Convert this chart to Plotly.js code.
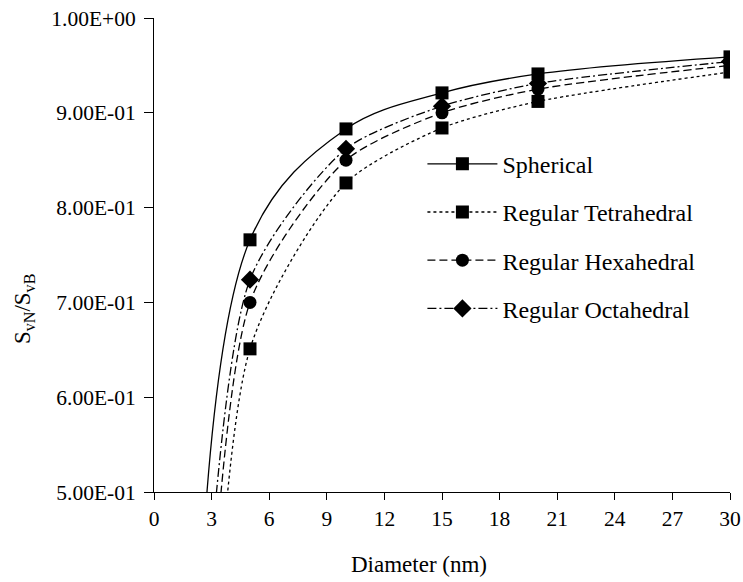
<!DOCTYPE html>
<html>
<head>
<meta charset="utf-8">
<script src="https://cdn.plot.ly/plotly-3.0.1.min.js"></script>
<style>html,body{margin:0;padding:0;background:#fff}#chart{width:743px;height:582px}</style>
</head>
<body>
<div id="chart"></div>
<script>
// Diameter (nm); the first point (2 nm) lies below the visible range (clipped) and only shapes the curve
var diameter = [2, 5, 10, 15, 20, 30];
var spherical   = [0.12, 0.766, 0.883, 0.921, 0.941, 0.959];
var tetrahedral = [-0.20, 0.651, 0.826, 0.884, 0.912, 0.943];
var hexahedral  = [-0.02, 0.700, 0.850, 0.900, 0.925, 0.950];
var octahedral  = [0.14, 0.724, 0.862, 0.907, 0.931, 0.954];
var seriesNames = ["Spherical", "Regular Tetrahedral", "Regular Hexahedral", "Regular Octahedral"];
var yTickVals = [0.5, 0.6, 0.7, 0.8, 0.9, 1.0];
var yTickText = ["5.00E-01", "6.00E-01", "7.00E-01", "8.00E-01", "9.00E-01", "1.00E+00"];
var xTickVals = [0, 3, 6, 9, 12, 15, 18, 21, 24, 27, 30];
var xTitle = "Diameter (nm)";
var yTitle = "S<sub>vN</sub>/S<sub>vB</sub>";

var FONT = "Liberation Serif";
var styles = [
  {dash: "solid", symbol: "square", size: 13, smooth: 1.0},
  {dash: "3px,3px", symbol: "square", size: 13, smooth: 0.7},
  {dash: "8px,4px", symbol: "circle", size: 13, smooth: 0.7},
  {dash: "9px,3px,2px,3px", symbol: "diamond", size: 14, smooth: 0.7}
];
var ys = [spherical, tetrahedral, hexahedral, octahedral];
var traces = ys.map(function (y, i) {
  return {
    x: diameter, y: y, name: seriesNames[i], type: "scatter", mode: "lines+markers",
    legendgroup: "g" + i,
    line: {color: "#000", width: 1.3, dash: styles[i].dash, shape: "spline", smoothing: styles[i].smooth},
    marker: {color: "#000", symbol: styles[i].symbol, size: styles[i].size},
    cliponaxis: true
  };
});

var layout = {
  width: 743, height: 582,
  margin: {l: 154, r: 13, t: 18, b: 90},
  paper_bgcolor: "#fff", plot_bgcolor: "#fff",
  font: {family: FONT, size: 21, color: "#000"},
  showlegend: true,
  legend: {x: 0.466, y: 0.739, xanchor: "left", yanchor: "top", bgcolor: "rgba(0,0,0,0)",
           font: {family: FONT, size: 24, color: "#000"}, itemwidth: 70, tracegroupgap: 14},
  xaxis: {range: [0, 30], tickmode: "array", tickvals: xTickVals, ticks: "outside", ticklen: 7,
          tickwidth: 1, tickcolor: "#000", showline: true, linecolor: "#000", linewidth: 1,
          showgrid: false, zeroline: false, tickfont: {family: FONT, size: 21.5, color: "#000"}},
  yaxis: {range: [0.5, 1.0], tickmode: "array", tickvals: yTickVals, ticktext: yTickText,
          ticks: "outside", ticklen: 9, tickwidth: 1, tickcolor: "#000", showline: true,
          linecolor: "#000", linewidth: 1, showgrid: false, zeroline: false,
          ticklabelstandoff: 4,
          tickfont: {family: FONT, size: 21.5, color: "#000"}},
  annotations: [
    {text: xTitle, xref: "paper", yref: "paper", x: 0.460, y: -0.154,
     xanchor: "center", yanchor: "middle", showarrow: false, font: {family: FONT, size: 23, color: "#000"}},
    {text: yTitle, xref: "paper", yref: "paper", x: -0.2257, y: 0.386,
     xanchor: "center", yanchor: "middle", textangle: -90, showarrow: false, font: {family: FONT, size: 23, color: "#000"}}
  ]
};
Plotly.newPlot("chart", traces, layout, {displayModeBar: false, staticPlot: true});
</script>
</body>
</html>
